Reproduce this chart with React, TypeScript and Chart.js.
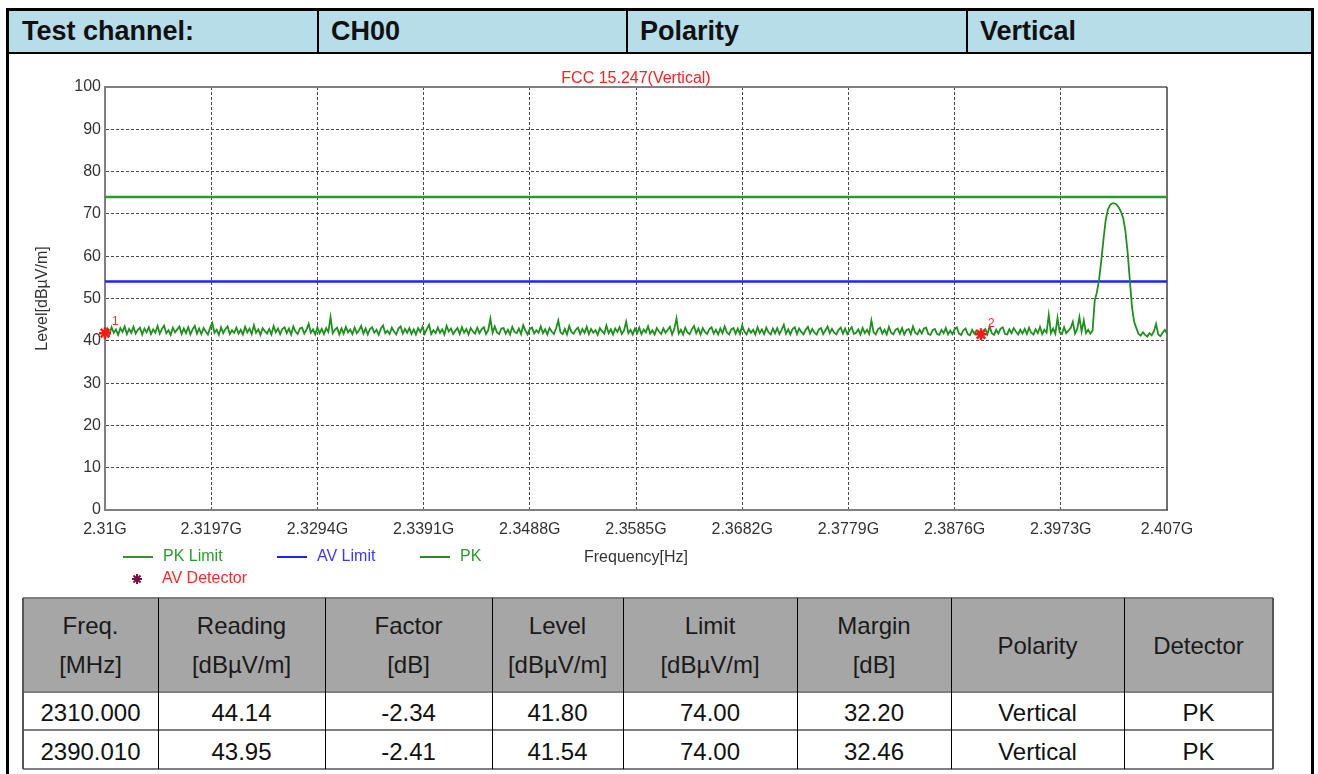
import React, { useEffect, useRef } from 'react';
import { Chart, registerables } from 'chart.js';

Chart.register(...registerables);

const FONT = '"Liberation Sans", Arial, Helvetica, sans-serif';

// ---------- header ----------
const headerCells = ['Test channel:', 'CH00', 'Polarity', 'Vertical'];

// ---------- chart texts ----------
const chartTitle = 'FCC 15.247(Vertical)';
const xAxisTitle = 'Frequency[Hz]';
const yAxisTitle = 'Level[dBµV/m]';

// ---------- axis ticks ----------
const xTickValues = [2310, 2319.7, 2329.4, 2339.1, 2348.8, 2358.5, 2368.2, 2377.9, 2387.6, 2397.3, 2407];
const xTickLabels = ['2.31G', '2.3197G', '2.3294G', '2.3391G', '2.3488G', '2.3585G', '2.3682G', '2.3779G', '2.3876G', '2.3973G', '2.407G'];

// ---------- sweep (PK trace) ----------
const sweepStartMHz = 2310;
const sweepStepMHz = 0.2;
const pkLevels = [
  41.8, 42.9, 41.5, 43.2, 41.9, 42.7, 41.4, 43.0, 42.1, 43.4, 41.6, 42.8, 41.9, 43.3, 41.7, 42.6, 43.1, 41.5, 42.9, 42.0,
  43.2, 41.6, 42.7, 41.9, 43.5, 41.7, 42.8, 43.6, 41.8, 42.5, 41.4, 43.1, 42.0, 42.7, 43.4, 41.6, 42.9, 41.8, 43.2, 41.5,
  42.7, 43.5, 41.7, 42.9, 41.6, 43.0, 42.2, 41.5, 43.1, 44.2, 41.9, 42.6, 41.4, 43.2, 41.8, 42.8, 43.4, 41.6, 42.5, 41.9,
  43.1, 41.7, 42.6, 41.5, 43.3, 42.0, 42.9, 41.6, 43.7, 41.9, 42.7, 41.4, 43.0, 42.3, 41.7, 42.8, 41.5, 43.5, 42.0, 42.9,
  41.6, 42.8, 43.2, 41.8, 42.9, 41.5, 43.4, 42.2, 41.6, 42.9, 43.1, 41.7, 42.6, 44.0, 41.9, 42.7, 41.5, 43.2, 41.8, 42.8,
  41.6, 43.0, 42.1, 45.6, 41.8, 42.6, 43.1, 41.5, 42.9, 41.7, 43.3, 42.0, 42.7, 41.6, 43.1, 41.8, 42.5, 43.5, 41.7, 42.9,
  41.5, 42.8, 43.2, 41.9, 42.6, 41.4, 42.9, 43.6, 41.8, 42.4, 41.6, 43.1, 42.2, 41.5, 42.9, 43.4, 41.7, 42.8, 41.9, 43.0,
  41.6, 42.7, 41.5, 43.0, 42.1, 43.3, 41.7, 42.8, 43.8, 41.6, 42.5, 41.8, 43.1, 41.9, 42.7, 41.5, 43.5, 42.2, 42.9, 41.6,
  42.4, 43.0, 41.6, 43.2, 41.9, 42.8, 41.5, 43.0, 42.2, 41.7, 43.1, 41.8, 42.7, 43.2, 41.6, 42.5, 45.2, 41.9, 43.4, 42.0,
  41.6, 42.9, 43.0, 41.7, 42.6, 41.5, 43.3, 42.1, 41.8, 42.9, 41.6, 43.7, 42.4, 41.5, 42.8, 43.1, 41.7, 42.5, 41.9, 43.4,
  41.8, 42.7, 41.5, 43.0, 42.2, 41.6, 42.9, 44.8, 42.0, 41.6, 42.8, 41.5, 43.5, 42.1, 41.7, 42.6, 43.1, 41.6, 42.8, 41.9,
  43.3, 41.6, 42.8, 41.9, 42.5, 41.4, 43.0, 42.3, 41.7, 43.6, 41.8, 42.7, 41.5, 42.9, 42.1, 43.2, 41.6, 42.4, 44.5, 41.8,
  42.6, 41.5, 42.9, 41.8, 43.1, 41.6, 42.7, 42.0, 43.4, 41.7, 42.5, 41.5, 43.0, 42.2, 41.6, 42.9, 41.9, 42.6, 43.3, 41.5,
  42.8, 45.3, 41.7, 42.6, 41.5, 43.1, 42.0, 41.6, 42.7, 43.5, 41.8, 42.9, 41.5, 43.0, 42.1, 41.6, 42.8, 43.2, 41.7, 42.6,
  41.5, 42.9, 41.8, 43.4, 42.0, 41.5, 42.7, 43.0, 41.7, 42.9, 41.6, 43.6, 42.2, 41.5, 42.8, 41.9, 42.6, 41.5, 43.2, 41.8,
  42.7, 41.6, 43.1, 42.0, 41.5, 42.9, 41.8, 43.0, 41.6, 42.6, 43.8, 41.7, 42.7, 41.5, 42.8, 43.2, 41.6, 42.9, 42.1, 41.5,
  42.6, 43.3, 41.7, 42.8, 41.9, 41.5, 42.7, 43.0, 41.6, 42.5, 43.4, 41.8, 42.8, 41.9, 41.5, 42.6, 43.1, 41.7, 42.9, 41.6,
  42.5, 43.2, 41.6, 41.9, 42.7, 41.5, 43.0, 41.8, 42.6, 41.6, 44.8, 42.0, 41.5, 42.7, 43.1, 41.7, 42.6, 41.5, 43.3, 41.9,
  41.5, 42.6, 42.9, 41.7, 43.0, 41.5, 42.5, 42.8, 41.6, 43.4, 41.9, 41.5, 42.6, 41.7, 42.9, 43.1, 41.6, 41.4, 42.5, 42.8,
  41.6, 41.4, 42.6, 41.8, 43.0, 41.5, 42.4, 41.6, 42.7, 43.2, 41.7, 41.4, 42.5, 42.9, 41.6, 41.3, 42.6, 41.7, 42.4, 41.5,
  41.5, 42.3, 42.8, 41.6, 43.4, 41.8, 41.4, 42.6, 41.7, 42.9, 43.2, 41.6, 41.5, 42.7, 41.8, 43.0, 42.2, 41.5, 42.6, 41.7,
  42.8, 41.6, 43.1, 41.9, 41.5, 42.7, 41.8, 43.3, 41.6, 42.6, 41.9, 46.1, 41.8, 42.9, 41.7, 45.4, 42.0, 41.6, 43.2, 41.8,
  42.4, 43.0, 44.5, 41.7, 42.8, 45.6, 42.2, 44.8, 41.8, 42.6, 41.7, 42.4,
  49.5, 51.5, 54.5, 59.0, 64.0, 68.5, 71.0, 72.1, 72.5, 72.5, 72.2, 71.5, 70.5, 69.0, 66.0, 61.0, 54.5, 48.0, 44.5, 43.0,
  41.6, 41.2, 42.0, 41.4, 41.0, 41.8, 41.3, 42.2, 44.0, 41.5, 41.1, 41.9, 42.6, 41.7,
];

// ---------- limits ----------
const limitFreqs = [2310, 2407];
const pkLimitLevels = [74, 74];
const avLimitLevels = [54, 54];

// ---------- markers ----------
const markerFreqs = [2310.0, 2390.01];
const markerLevels = [41.8, 41.54];
const markerLabels = ['1', '2'];

// ---------- result table ----------
const tableHeads = [
  ['Freq.', '[MHz]'],
  ['Reading', '[dBµV/m]'],
  ['Factor', '[dB]'],
  ['Level', '[dBµV/m]'],
  ['Limit', '[dBµV/m]'],
  ['Margin', '[dB]'],
  ['Polarity'],
  ['Detector'],
];
const rowFreq = ['2310.000', '2390.010'];
const rowReading = ['44.14', '43.95'];
const rowFactor = ['-2.34', '-2.41'];
const rowLevel = ['41.80', '41.54'];
const rowLimit = ['74.00', '74.00'];
const rowMargin = ['32.20', '32.46'];
const rowPolarity = ['Vertical', 'Vertical'];
const rowDetector = ['PK', 'PK'];

const CANVAS_LEFT = 10;
const CANVAS_TOP = 56;

const overlayPlugin = {
  id: 'overlay',
  beforeDatasetsDraw(chart: any) {
    const { ctx, chartArea: a } = chart;
    ctx.save();
    ctx.strokeStyle = '#808080';
    ctx.lineWidth = 2;
    ctx.beginPath();
    ctx.moveTo(a.left, a.top);
    ctx.lineTo(a.right, a.top);
    ctx.stroke();
    ctx.strokeStyle = '#404040';
    ctx.lineWidth = 1.5;
    ctx.beginPath();
    ctx.moveTo(a.right, a.top);
    ctx.lineTo(a.right, a.bottom);
    ctx.stroke();
    ctx.restore();
  },
  afterDraw(chart: any) {
    const { ctx, chartArea: a } = chart;
    ctx.save();
    // title
    ctx.font = `16px ${FONT}`;
    ctx.fillStyle = '#ff2020';
    ctx.textAlign = 'center';
    ctx.textBaseline = 'middle';
    ctx.fillText(chartTitle, (a.left + a.right) / 2, 79 - CANVAS_TOP);

    // marker labels
    const mMeta = chart.getDatasetMeta(3);
    ctx.font = `12px ${FONT}`;
    ctx.fillStyle = '#ff3030';
    ctx.textAlign = 'left';
    mMeta.data.forEach((el: any, i: number) => {
      ctx.fillText(markerLabels[i], el.x + 7, el.y - 11);
    });

    // legend
    const ds = chart.data.datasets;
    const legendPos = [
      { x: 113, y: 557 - CANVAS_TOP },
      { x: 267, y: 557 - CANVAS_TOP },
      { x: 410, y: 557 - CANVAS_TOP },
      { x: 117, y: 579 - CANVAS_TOP },
    ];
    const textColors = ['#2e9b2e', '#3a3aff', '#2e9b2e', '#ff2a2a'];
    ctx.font = `16px ${FONT}`;
    ctx.textBaseline = 'middle';
    ds.forEach((d: any, i: number) => {
      const p = legendPos[i];
      if (i < 3) {
        ctx.strokeStyle = d.borderColor;
        ctx.lineWidth = 2;
        ctx.beginPath();
        ctx.moveTo(p.x, p.y);
        ctx.lineTo(p.x + 30, p.y);
        ctx.stroke();
      } else {
        const cx = p.x + 10;
        ctx.strokeStyle = '#7a1040';
        ctx.lineWidth = 2;
        for (let k = 0; k < 4; k++) {
          const ang = (k * Math.PI) / 4;
          ctx.beginPath();
          ctx.moveTo(cx - 5 * Math.cos(ang), p.y - 5 * Math.sin(ang));
          ctx.lineTo(cx + 5 * Math.cos(ang), p.y + 5 * Math.sin(ang));
          ctx.stroke();
        }
      }
      ctx.fillStyle = textColors[i];
      ctx.fillText(d.label, p.x + (i < 3 ? 40 : 35), p.y);
    });
    ctx.restore();
  },
};

function ChartPanel() {
  const ref = useRef<HTMLCanvasElement>(null);
  useEffect(() => {
    if (!ref.current) return;
    Chart.defaults.font.family = FONT;
    const pkData = pkLevels.map((v, i) => ({ x: sweepStartMHz + i * sweepStepMHz, y: v }));
    const chart = new Chart(ref.current, {
      type: 'line',
      data: {
        datasets: [
          {
            label: 'PK Limit',
            data: limitFreqs.map((f, i) => ({ x: f, y: pkLimitLevels[i] })),
            borderColor: '#2a9a2a',
            borderWidth: 2.5,
            pointRadius: 0,
            order: 3,
          },
          {
            label: 'AV Limit',
            data: limitFreqs.map((f, i) => ({ x: f, y: avLimitLevels[i] })),
            borderColor: '#2020ff',
            borderWidth: 2.5,
            pointRadius: 0,
            order: 2,
          },
          {
            label: 'PK',
            data: pkData,
            borderColor: '#1f8f1f',
            borderWidth: 1.8,
            pointRadius: 0,
            order: 1,
          },
          {
            label: 'AV Detector',
            data: markerFreqs.map((f, i) => ({ x: f, y: markerLevels[i] })),
            showLine: false,
            pointStyle: 'star',
            pointRadius: 6,
            borderColor: '#ff1a1a',
            backgroundColor: '#ff1a1a',
            borderWidth: 2.5,
            clip: false,
            order: 0,
          },
        ],
      },
      options: {
        animation: false,
        responsive: false,
        layout: { padding: { top: 31, right: 143, left: 0, bottom: 0 } },
        plugins: {
          legend: { display: false },
          title: { display: false },
          tooltip: { enabled: false },
        },
        scales: {
          x: {
            type: 'linear',
            min: 2310,
            max: 2407,
            afterBuildTicks: (s: any) => {
              s.ticks = xTickValues.map((v) => ({ value: v }));
            },
            afterFit: (s: any) => {
              s.height = 86;
            },
            ticks: {
              autoSkip: false,
              maxRotation: 0,
              minRotation: 0,
              callback: (_v: any, i: number) => xTickLabels[i],
              color: '#333',
              font: { size: 16, family: FONT },
              padding: 10,
            },
            grid: {
              drawTicks: false,
              lineWidth: 1,
              color: (c: any) =>
                c.tick && (c.tick.value === 2407 || c.tick.value === 2310) ? 'rgba(0,0,0,0)' : '#4a4a4a',
            },
            border: { color: '#808080', width: 2, dash: [3, 2] },
            title: {
              display: true,
              text: xAxisTitle,
              color: '#333',
              font: { size: 16, family: FONT },
              padding: { top: 0, bottom: 29 },
            },
          },
          y: {
            type: 'linear',
            min: 0,
            max: 100,
            afterFit: (s: any) => {
              s.width = 95;
            },
            ticks: {
              stepSize: 10,
              color: '#333',
              font: { size: 16, family: FONT },
              padding: 4,
            },
            grid: {
              drawTicks: false,
              lineWidth: 1,
              color: (c: any) =>
                c.tick && (c.tick.value === 100 || c.tick.value === 0) ? 'rgba(0,0,0,0)' : '#4a4a4a',
            },
            border: { color: '#808080', width: 2, dash: [3, 2] },
            title: {
              display: true,
              text: yAxisTitle,
              color: '#333',
              font: { size: 16, family: FONT },
              padding: { top: 23, bottom: 0 },
            },
          },
        },
      },
      plugins: [overlayPlugin],
    } as any);
    return () => chart.destroy();
  }, []);
  return (
    <canvas
      ref={ref}
      width={1300}
      height={540}
      style={{ position: 'absolute', left: CANVAS_LEFT, top: CANVAS_TOP, width: 1300, height: 540 }}
    />
  );
}

const headerLeft = [9, 318, 627, 967];
const headerRight = [318, 627, 967, 1311];
const headerTextPad = 13;

const colX = [23, 158, 325, 492, 623, 797, 951, 1124, 1273];
const rowY = [598, 692, 730, 769];

export default function App() {
  const rows = [rowFreq, rowReading, rowFactor, rowLevel, rowLimit, rowMargin, rowPolarity, rowDetector];
  return (
    <div
      style={{
        position: 'fixed',
        left: 0,
        top: 0,
        width: 1318,
        height: 774,
        overflow: 'hidden',
        background: '#fff',
        fontFamily: FONT,
        color: '#111',
      }}
    >
      {/* header background */}
      <div style={{ position: 'absolute', left: 9, top: 11, width: 1302, height: 41, background: '#b7dde8' }} />
      {headerCells.map((t, i) => (
        <div
          key={'h' + i}
          style={{
            position: 'absolute',
            left: headerLeft[i] + headerTextPad,
            top: 11,
            width: headerRight[i] - headerLeft[i] - headerTextPad,
            height: 41,
            lineHeight: '41px',
            fontSize: 27,
            fontWeight: 'bold',
            color: '#111',
            whiteSpace: 'nowrap',
          }}
        >
          {t}
        </div>
      ))}
      {/* header lines */}
      <div style={{ position: 'absolute', left: 6, top: 52, width: 1308, height: 2, background: '#000' }} />
      {[318, 627, 967].map((x, i) => (
        <div key={'hv' + i} style={{ position: 'absolute', left: x - 1, top: 11, width: 2, height: 41, background: '#000' }} />
      ))}
      {/* outer frame */}
      <div
        style={{
          position: 'absolute',
          left: 6,
          top: 8,
          width: 1308,
          height: 800,
          border: '3px solid #000',
          boxSizing: 'border-box',
        }}
      />

      <ChartPanel />

      {/* result table */}
      <div
        style={{
          position: 'absolute',
          left: colX[0],
          top: rowY[0],
          width: colX[8] - colX[0],
          height: rowY[1] - rowY[0],
          background: '#a6a6a6',
        }}
      />
      {tableHeads.map((lines, c) => (
        <div
          key={'th' + c}
          style={{
            position: 'absolute',
            left: colX[c],
            top: rowY[0],
            width: colX[c + 1] - colX[c],
            height: rowY[1] - rowY[0],
            display: 'flex',
            flexDirection: 'column',
            alignItems: 'center',
            justifyContent: 'center',
            fontSize: 24,
            lineHeight: '39px',
            color: '#1a1a1a',
          }}
        >
          {lines.map((l, k) => (
            <div key={k}>{l}</div>
          ))}
        </div>
      ))}
      {[0, 1].map((r) =>
        rows.map((col, c) => (
          <div
            key={'td' + r + '_' + c}
            style={{
              position: 'absolute',
              left: colX[c],
              top: rowY[r + 1] + 2,
              width: colX[c + 1] - colX[c],
              height: rowY[r + 2] - rowY[r + 1],
              display: 'flex',
              alignItems: 'center',
              justifyContent: 'center',
              fontSize: 24,
              color: '#111',
            }}
          >
            {col[r]}
          </div>
        ))
      )}
      {rowY.map((y, i) => (
        <div
          key={'hl' + i}
          style={{ position: 'absolute', left: colX[0], top: y - 1, width: colX[8] - colX[0], height: 2, background: '#7f7f7f' }}
        />
      ))}
      {colX.map((x, i) => (
        <div
          key={'vl' + i}
          style={{
            position: 'absolute',
            left: x - (i === 0 || i === 8 ? 1 : 0),
            top: rowY[0],
            width: i === 0 || i === 8 ? 2 : 1,
            height: rowY[3] - rowY[0],
            background: i === 0 || i === 8 ? '#555' : '#000',
          }}
        />
      ))}
    </div>
  );
}
